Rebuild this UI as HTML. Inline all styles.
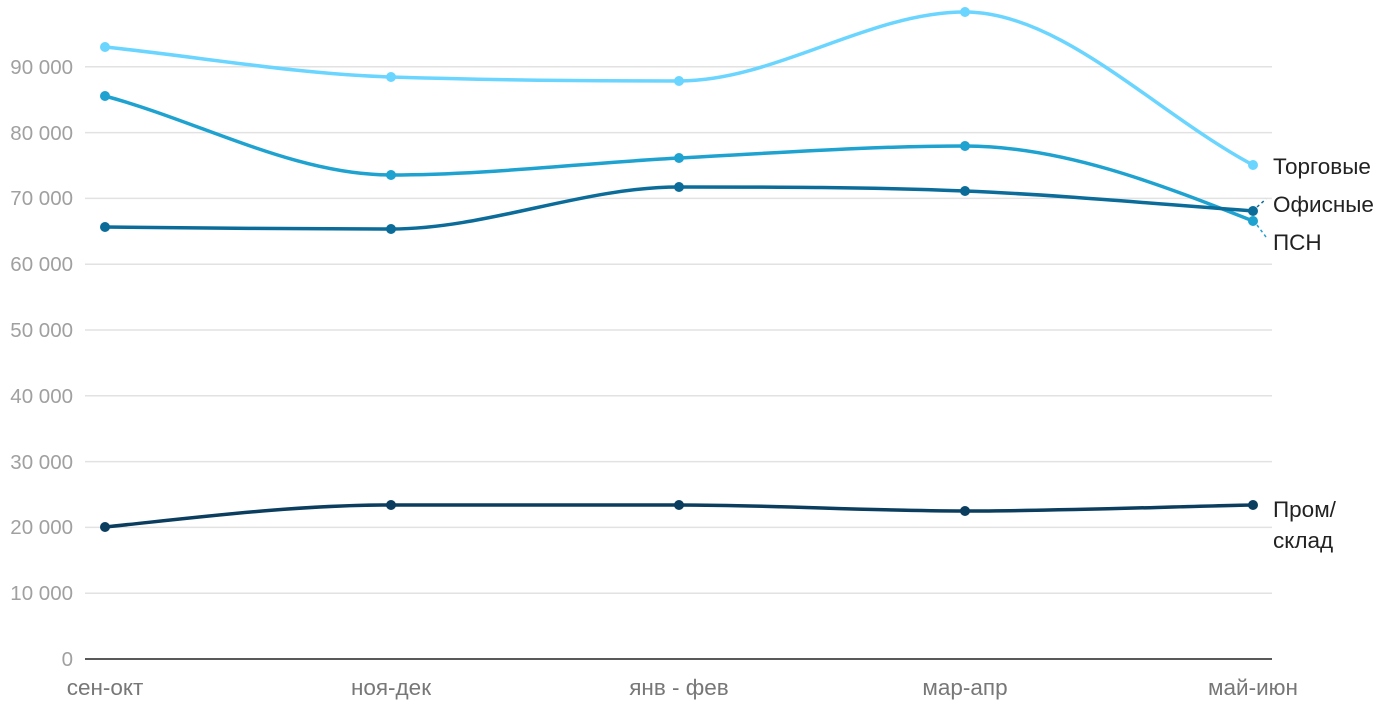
<!DOCTYPE html><html><head><style>body{margin:0;background:#fff}svg text{font-family:"Liberation Sans",sans-serif}</style></head><body>
<svg width="1400" height="700" xmlns="http://www.w3.org/2000/svg">
<g stroke="#e2e2e2" stroke-width="1.5">
<line x1="85" x2="1272" y1="593.2" y2="593.2"/><line x1="85" x2="1272" y1="527.4" y2="527.4"/><line x1="85" x2="1272" y1="461.6" y2="461.6"/><line x1="85" x2="1272" y1="395.8" y2="395.8"/><line x1="85" x2="1272" y1="330" y2="330"/><line x1="85" x2="1272" y1="264.2" y2="264.2"/><line x1="85" x2="1272" y1="198.4" y2="198.4"/><line x1="85" x2="1272" y1="132.6" y2="132.6"/><line x1="85" x2="1272" y1="66.8" y2="66.8"/>
</g>
<line x1="85" x2="1272" y1="659" y2="659" stroke="#222" stroke-width="1.5"/>
<g fill="#a0a0a0" font-size="20.5" text-anchor="end">
<text x="73" y="666">0</text><text x="73" y="600">10 000</text><text x="73" y="534">20 000</text><text x="73" y="469">30 000</text><text x="73" y="403">40 000</text><text x="73" y="337">50 000</text><text x="73" y="271">60 000</text><text x="73" y="205">70 000</text><text x="73" y="140">80 000</text><text x="73" y="74">90 000</text>
</g>
<g fill="#777" font-size="22.5" text-anchor="middle">
<text x="105" y="695">сен-окт</text><text x="391" y="695">ноя-дек</text><text x="679" y="695">янв - фев</text><text x="965" y="695">мар-апр</text><text x="1253" y="695">май-июн</text>
</g>
<g fill="none" stroke-width="3.5">
<path stroke="#6ad5ff" d="M105,47 C201,57 295,74 391,77 C487,80 583,81 679,81 C775,81 869,12 965,12 C1061,12 1157,114 1253,165"/>
<path stroke="#1ea2d0" d="M105,96 C201,122 295,175 391,175 C487,175 583,163 679,158 C775,153 869,146 965,146 C1061,146 1157,183 1253,221"/>
<path stroke="#0b6c99" d="M105,227 C201,228 295,229 391,229 C487,229 583,187 679,187 C775,187 869,187 965,191 C1061,195 1157,204 1253,211"/>
<path stroke="#0a3d5e" d="M105,527 C201,517 295,505 391,505 C487,505 583,505 679,505 C775,505 869,511 965,511 C1061,511 1157,507 1253,505"/>
</g>
<g fill="#6ad5ff"><circle cx="105" cy="47" r="5"/><circle cx="391" cy="77" r="5"/><circle cx="679" cy="81" r="5"/><circle cx="965" cy="12" r="5"/><circle cx="1253" cy="165" r="5"/></g>
<g fill="#1ea2d0"><circle cx="105" cy="96" r="5"/><circle cx="391" cy="175" r="5"/><circle cx="679" cy="158" r="5"/><circle cx="965" cy="146" r="5"/><circle cx="1253" cy="221" r="5"/></g>
<g fill="#0b6c99"><circle cx="105" cy="227" r="5"/><circle cx="391" cy="229" r="5"/><circle cx="679" cy="187" r="5"/><circle cx="965" cy="191" r="5"/><circle cx="1253" cy="211" r="5"/></g>
<g fill="#0a3d5e"><circle cx="105" cy="527" r="5"/><circle cx="391" cy="505" r="5"/><circle cx="679" cy="505" r="5"/><circle cx="965" cy="511" r="5"/><circle cx="1253" cy="505" r="5"/></g>
<line x1="1257" y1="207" x2="1266" y2="199" stroke="#0b6c99" stroke-width="1.5" stroke-dasharray="3,3"/>
<line x1="1257" y1="225" x2="1266" y2="237" stroke="#1ea2d0" stroke-width="1.5" stroke-dasharray="3,3"/>
<g fill="#222" font-size="22.5">
<text x="1273" y="174">Торговые</text><text x="1273" y="212">Офисные</text><text x="1273" y="250">ПСН</text><text x="1273" y="517">Пром/</text><text x="1273" y="548">склад</text>
</g>
</svg>
</body></html>
